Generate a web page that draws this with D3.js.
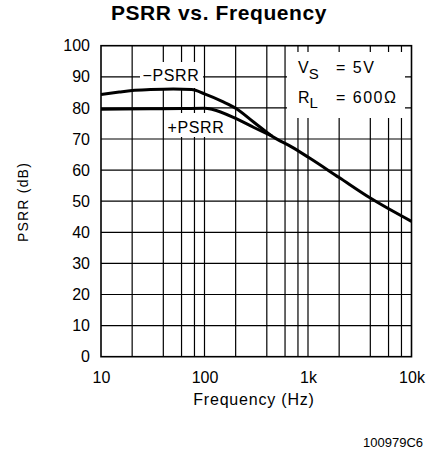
<!DOCTYPE html>
<html>
<head>
<meta charset="utf-8">
<script src="https://cdn.jsdelivr.net/npm/d3@7"></script>
<style>
  body { margin: 0; background: #fff; }
  svg text { font-family: "Liberation Sans", Arial, sans-serif; fill: #000; }
</style>
</head>
<body>
<svg id="chart" width="433" height="456"></svg>
<script>
// values
var minusFreq = [10, 15, 20, 30, 50, 75, 100, 150, 200, 300, 450]
var minusPsrr = [84.3, 85.1, 85.6, 85.9, 86.1, 85.9, 84.5, 82.0, 79.9, 75.4, 70.9]
var plusFreq = [10, 30, 60, 100, 120, 200, 300, 450]
var plusPsrr = [79.6, 79.7, 79.8, 79.9, 79.5, 76.6, 73.7, 70.9]
var tailFreq = [700, 1000, 2000, 4000, 10000]
var tailPsrr = [67.4, 64.2, 57.6, 51.0, 43.5]

var xTicks = [10, 100, 1000, 10000]
var xTickLabels = ['10', '100', '1k', '10k']
var xGrid = [20, 40, 60, 80, 100, 200, 400, 600, 800, 1000, 2000, 4000, 6000, 8000]
var yTicks = [0, 10, 20, 30, 40, 50, 60, 70, 80, 90, 100]

var svg = d3.select('#chart')
var x = d3.scaleLog().domain([10, 10000]).range([101, 411.5])
var y = d3.scaleLinear().domain([0, 100]).range([356.7, 45.7])

svg.append('rect').attr('width', 433).attr('height', 456).attr('fill', '#fff')

// grid
var grid = svg.append('g').attr('stroke', '#000').attr('stroke-width', 1.2)
grid.selectAll('.vg').data(xGrid).enter().append('line')
  .attr('x1', d => x(d)).attr('x2', d => x(d))
  .attr('y1', y(0)).attr('y2', y(100))
grid.selectAll('.hg').data(yTicks.slice(1, -1)).enter().append('line')
  .attr('x1', x(10)).attr('x2', x(10000))
  .attr('y1', d => y(d)).attr('y2', d => y(d))

// white boxes behind the labels
svg.append('rect').attr('x', 140).attr('y', 62).attr('width', 63).attr('height', 26).attr('fill', '#fff')
svg.append('rect').attr('x', 170).attr('y', 113).attr('width', 52).attr('height', 24).attr('fill', '#fff')
svg.append('rect').attr('x', 287).attr('y', 52).attr('width', 118).attr('height', 66).attr('fill', '#fff')

// curves
var line = d3.line()
  .x(d => x(d[0]))
  .y(d => y(d[1]))
  .curve(d3.curveMonotoneX)

var minusPts = d3.zip(minusFreq.concat(tailFreq), minusPsrr.concat(tailPsrr))
var plusPts = d3.zip(plusFreq, plusPsrr)

svg.append('path').attr('d', line(minusPts))
  .attr('fill', 'none').attr('stroke', '#000').attr('stroke-width', 3)
svg.append('path').attr('d', line(plusPts))
  .attr('fill', 'none').attr('stroke', '#000').attr('stroke-width', 3)

// frame
svg.append('rect')
  .attr('x', x(10)).attr('y', y(100))
  .attr('width', x(10000) - x(10)).attr('height', y(0) - y(100))
  .attr('fill', 'none').attr('stroke', '#000').attr('stroke-width', 1.6)

// axes
svg.append('g')
  .attr('transform', 'translate(' + x(10) + ',0)')
  .call(d3.axisLeft(y).tickValues(yTicks).tickSize(0).tickPadding(11))
svg.append('g')
  .attr('transform', 'translate(0,' + y(0) + ')')
  .call(d3.axisBottom(x).tickValues(xTicks).tickSize(0).tickPadding(15)
    .tickFormat((d, i) => xTickLabels[i]))
svg.selectAll('.domain').remove()
svg.selectAll('.tick text')
  .style('font-family', '"Liberation Sans", Arial, sans-serif')
  .style('font-size', '16px')
  .attr('fill', '#000')

// titles
svg.append('text')
  .attr('x', 219).attr('y', 20)
  .attr('text-anchor', 'middle')
  .style('font-size', '21px').style('font-weight', 'bold').style('letter-spacing', '0.6px')
  .attr('fill', '#222')
  .text('PSRR vs. Frequency')

svg.append('text')
  .attr('x', 254).attr('y', 405)
  .attr('text-anchor', 'middle')
  .style('font-size', '16px').style('letter-spacing', '0.8px')
  .text('Frequency (Hz)')

svg.append('text')
  .attr('transform', 'translate(28,202) rotate(-90)')
  .attr('text-anchor', 'middle')
  .style('font-size', '14px').style('letter-spacing', '1.2px')
  .text('PSRR (dB)')

svg.append('text')
  .attr('x', 423).attr('y', 447)
  .attr('text-anchor', 'end')
  .style('font-size', '13px')
  .text('100979C6')

// curve labels
svg.append('text').attr('x', 171).attr('y', 81)
  .attr('text-anchor', 'middle').style('font-size', '16px').style('letter-spacing', '0.6px')
  .text('\u2212PSRR')
svg.append('text').attr('x', 196).attr('y', 133)
  .attr('text-anchor', 'middle').style('font-size', '16px').style('letter-spacing', '0.6px')
  .text('+PSRR')

// conditions box
var vs = svg.append('text').attr('x', 298).attr('y', 73).style('font-size', '16px')
vs.append('tspan').text('V')
vs.append('tspan').attr('dy', 6).style('font-size', '15px').text('S')
vs.append('tspan').attr('x', 336).attr('dy', -6).style('letter-spacing', '1.5px').text('=  5V')

var rl = svg.append('text').attr('x', 298).attr('y', 103).style('font-size', '16px')
rl.append('tspan').text('R')
rl.append('tspan').attr('dy', 5).style('font-size', '15px').text('L')
rl.append('tspan').attr('x', 336).attr('dy', -5).style('letter-spacing', '1.5px').text('=  600\u03A9')
</script>
</body>
</html>
